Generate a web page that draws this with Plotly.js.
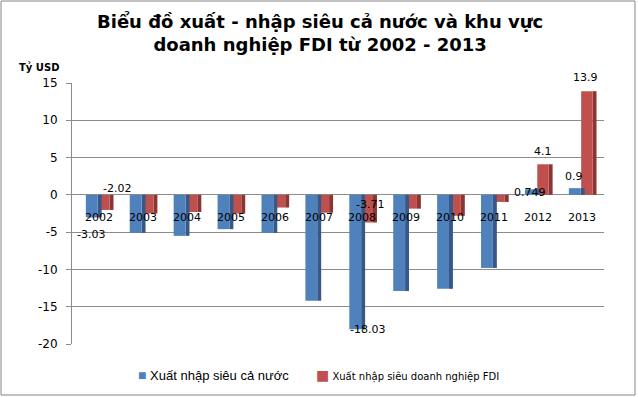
<!DOCTYPE html>
<html><head><meta charset="utf-8">
<script src="https://cdn.plot.ly/plotly-3.0.1.min.js"></script>
<style>body{margin:0;background:#fff}#c{width:638px;height:397px}</style>
</head><body><div id="c"></div>
<script>
var years = ['2002','2003','2004','2005','2006','2007','2008','2009','2010','2011','2012','2013'];
var nationalBalance = [-3.03,-5.1,-5.5,-4.6,-5.1,-14.2,-18.03,-12.9,-12.6,-9.8,0.749,0.9];
var fdiBalance = [-2.02,-2.5,-2.3,-2.5,-1.7,-2.4,-3.71,-1.85,-2.8,-0.95,4.1,13.9];
var seriesNames = ['Xuất nhập siêu cả nước','Xuất nhập siêu doanh nghiệp FDI'];
var seriesColors = ['#4F81BD','#C0504D'];
var sideColors = ['#36598A','#8C3533'];
var yTicks = [-20,-15,-10,-5,0,5,10,15];
var titleText = 'Biểu đồ xuất - nhập siêu cả nước và khu vực<br>doanh nghiệp FDI từ 2002 - 2013';
var yTitle = 'Tỷ USD';

// data-label placement (style only): [xshift, yshift] per series, for labelled years
var labelStyle = {
  '2002': [[-1,-17],[11,21]],
  '2008': [[12,0],[1,18]],
  '2012': [[-1,-3],[-2,13]],
  '2013': [[-1,12],[-4,14]]
};
var seriesOffset = [-7, 7];
// bar geometry in category units: [front offset, front width, side offset, side width]
var geom = [[-0.30, 0.27, -0.03, 0.09], [-0.02, 0.26, 0.24, 0.09]];

function barPair(vals, s){
  var g = geom[s];
  return [
    {type:'bar', x:years, y:vals, name:seriesNames[s], offset:g[2], width:g[3],
     marker:{color:sideColors[s], line:{width:0}}, hoverinfo:'skip'},
    {type:'bar', x:years, y:vals, name:seriesNames[s], offset:g[0], width:g[1],
     marker:{color:seriesColors[s], line:{width:0}}}
  ];
}
var traces = barPair(fdiBalance, 1).concat(barPair(nationalBalance, 0));

var F = 'DejaVu Sans';
// category axis: annotation x uses the category serial number
var annotations = years.map(function(y, i){
  return {x:i, y:0, xref:'x', yref:'y', text:y, showarrow:false, yshift:-23,
          font:{family:F, size:11, color:'#000'}};
});
[nationalBalance, fdiBalance].forEach(function(vals, s){
  vals.forEach(function(v, i){
    var st = labelStyle[years[i]];
    if(!st) return;
    annotations.push({x:i, y:v, xref:'x', yref:'y', text:String(v), showarrow:false,
      xshift:seriesOffset[s]+st[s][0], yshift:st[s][1],
      font:{family:F, size:11, color:'#000'}});
  });
});
annotations.push({xref:'paper', yref:'paper', x:(17-72)/532, y:(344-67)/261, xanchor:'left', yanchor:'middle',
  text:'<b>'+yTitle+'</b>', showarrow:false, font:{family:F, size:10, color:'#000'}});
annotations.push({xref:'paper', yref:'paper', x:(320-72)/532, y:(344-33)/261, xanchor:'center', yanchor:'middle',
  text:'<b>'+titleText+'</b>', showarrow:false, font:{family:F, size:18, color:'#000'}});
// legend
var legendX = [136, 314];
var legendFonts = [{family:'Liberation Sans', size:13}, {family:F, size:10}];
seriesNames.forEach(function(n, s){
  annotations.push({xref:'paper', yref:'paper', x:(legendX[s]-72)/532, y:(344-375)/261,
    xanchor:'left', yanchor:'middle', showarrow:false,
    text:'<span style="color:'+seriesColors[s]+';font-size:14px">■</span> '+n,
    font:{family:legendFonts[s].family, size:legendFonts[s].size, color:'#000'}});
});

var layout = {
  width:638, height:397,
  margin:{l:72, r:34, t:83, b:53, autoexpand:false},
  paper_bgcolor:'#fff', plot_bgcolor:'#fff',
  barmode:'overlay',
  xaxis:{type:'category', range:[-0.615, 11.5], showticklabels:false, showgrid:false, zeroline:false, showline:false, ticks:''},
  yaxis:{range:[-20,15], tickvals:yTicks, ticktext:yTicks.map(String),
         showgrid:true, gridcolor:'#8C8C8C', gridwidth:1,
         zeroline:true, zerolinecolor:'#8C8C8C', zerolinewidth:1,
         showline:true, linecolor:'#8C8C8C', ticks:'outside', ticklen:5, tickcolor:'#8C8C8C',
         ticklabelstandoff:6,
         tickfont:{family:F, size:12, color:'#000'}},
  showlegend:false,
  annotations:annotations,
  shapes:[{type:'rect', xref:'paper', yref:'paper', x0:(1-72)/532, x1:(635-72)/532, y0:(344-395)/261, y1:(344-1)/261,
           line:{color:'#868686', width:1}}]
};
Plotly.newPlot('c', traces, layout, {displayModeBar:false, staticPlot:true});
</script></body></html>
